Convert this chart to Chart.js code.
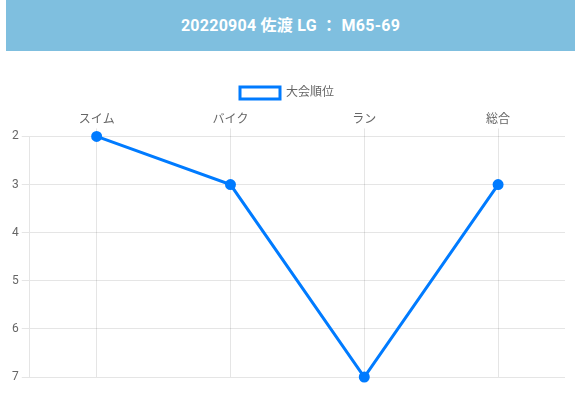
<!DOCTYPE html>
<html>
<head>
<meta charset="utf-8">
<script src="https://cdn.jsdelivr.net/npm/chart.js@4/dist/chart.umd.min.js"></script>
<style>
  body { margin: 0; background: #fff; font-family: Roboto, "Noto Sans CJK JP", sans-serif; }
  .header {
    margin-left: 6px;
    height: 51px;
    background: #7fbfdf;
    color: #fff;
    font-weight: bold;
    font-size: 16px;
    letter-spacing: 0.25px;
    line-height: 51px;
    text-align: center;
  }
  .wrap { position: relative; width: 575px; height: 355px; }
</style>
</head>
<body>
<div class="header">20220904 佐渡 LG ： M65-69</div>
<div class="wrap"><canvas id="rank-chart"></canvas></div>
<script>
const legs = ['スイム', 'バイク', 'ラン', '総合'];
const ranks = [2, 3, 7, 3];
const seriesLabel = '大会順位';

Chart.defaults.font.family = 'Roboto, "Noto Sans CJK JP", sans-serif';
Chart.defaults.font.size = 12;
Chart.defaults.color = '#666';

// a little more room under the legend
const legendGap = {
  id: 'legendGap',
  beforeInit(chart) {
    const fit = chart.legend.fit;
    chart.legend.fit = function () {
      fit.bind(chart.legend)();
      this.height += 3;
    };
  }
};

const ctx = document.getElementById('rank-chart').getContext('2d');
new Chart(ctx, {
  type: 'line',
  data: {
    labels: legs,
    datasets: [{
      label: seriesLabel,
      data: ranks,
      borderColor: '#007bff',
      backgroundColor: '#fff',
      pointBackgroundColor: '#007bff',
      pointBorderColor: '#007bff',
      pointRadius: 4,
      borderWidth: 3,
      fill: false,
      tension: 0,
      clip: false
    }]
  },
  options: {
    responsive: true,
    maintainAspectRatio: false,
    animation: false,
    layout: { padding: { top: 23, right: 10, bottom: 29, left: 9 } },
    plugins: {
      legend: {
        display: true,
        labels: { boxWidth: 40, boxHeight: 12, color: '#666', padding: 13 }
      },
      tooltip: { enabled: false }
    },
    scales: {
      x: {
        position: 'top',
        offset: true,
        ticks: { padding: 1 },
        grid: { offset: false, color: 'rgba(0,0,0,0.1)', drawTicks: true },
        border: { display: false }
      },
      y: {
        reverse: true,
        min: 2,
        max: 7,
        ticks: { stepSize: 1 },
        grid: { color: 'rgba(0,0,0,0.1)' },
        border: { color: 'rgba(0,0,0,0.1)' }
      }
    }
  },
  plugins: [legendGap]
});
</script>
</body>
</html>
